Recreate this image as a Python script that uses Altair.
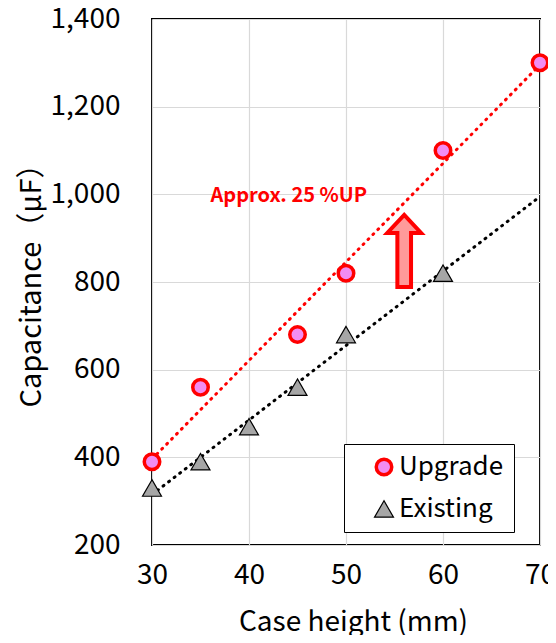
import altair as alt
import pandas as pd

# ---- data ----
series_names = ["Upgrade", "Existing"]
upgrade_height = [30, 35, 45, 50, 60, 70]
upgrade_cap = [390, 560, 680, 820, 1100, 1300]
existing_height = [30, 35, 40, 45, 50, 60]
existing_cap = [330, 390, 470, 560, 680, 820]
x_ticks = [30, 40, 50, 60, 70]
y_ticks = [200, 400, 600, 800, 1000, 1200, 1400]
annotation_text = ["Approx. 25 %UP"]

FONT = "Noto Sans CJK JP"

df = pd.DataFrame({
    "height": upgrade_height + existing_height,
    "cap": upgrade_cap + existing_cap,
    "series": ["Upgrade"] * len(upgrade_height) + ["Existing"] * len(existing_height),
})

ann = pd.DataFrame({"height": [44.1], "cap": [996], "label": annotation_text})
arrow = pd.DataFrame({"height": [56.0], "cap": [871]})

xscale = alt.Scale(domain=[30, 70], nice=False, zero=False)
yscale = alt.Scale(domain=[200, 1400], nice=False, zero=False)

xaxis = alt.Axis(values=x_ticks, format=".0f", title="Case height (mm)", grid=True, gridColor="#d9d9d9",
                 gridWidth=1.2, ticks=False, domain=False, labelFontSize=28, labelPadding=16,
                 labelColor="black", titleFontSize=28, titleFontWeight="normal",
                 titleColor="black", titleX=201, titleY=77, titleBaseline="middle", labelFlush=False)
yaxis = alt.Axis(values=y_ticks, format=",.0f", title="Capacitance（μF）", grid=True,
                 gridColor="#d9d9d9", gridWidth=1.2, ticks=False, domain=False,
                 labelFontSize=28, labelPadding=32, labelColor="black",
                 titleFontSize=29, titleFontWeight="normal", titleColor="black", titleX=-121,
                 titleY=259, titleBaseline="middle", titleAngle=-90)

X = alt.X("height:Q", scale=xscale, axis=xaxis)
Y = alt.Y("cap:Q", scale=yscale, axis=yaxis)

leg = alt.Legend(orient="none", legendX=192, legendY=425, title=None, strokeColor="black",
                 fillColor="white", padding=10, labelFontSize=26, labelColor="black",
                 rowPadding=14, labelOffset=2, symbolOffset=17,
                 labelExpr="datum.label + '\u00a0'")

reg = alt.Chart(df).transform_regression("height", "cap", groupby=["series"], extent=[30, 70])
line_up = reg.transform_filter(alt.datum.series == "Upgrade").mark_line(
    strokeWidth=3, strokeDash=[1, 6], strokeCap="round", color="#ff0000").encode(x=X, y=Y)
line_ex = reg.transform_filter(alt.datum.series == "Existing").mark_line(
    strokeWidth=3, strokeDash=[1, 6], strokeCap="round", color="#000000").encode(x=X, y=Y)

points = alt.Chart(df).mark_point(opacity=1, fillOpacity=1, filled=True).encode(
    x=X, y=Y,
    fill=alt.Fill("series:N", scale=alt.Scale(domain=series_names, range=["#f28cf2", "#a6a6a6"]), legend=leg),
    stroke=alt.Stroke("series:N", scale=alt.Scale(domain=series_names, range=["#ff0000", "#000000"]), legend=leg),
    shape=alt.Shape("series:N", scale=alt.Scale(domain=series_names, range=["circle", "triangle-up"]), legend=leg),
    strokeWidth=alt.StrokeWidth("series:N", scale=alt.Scale(domain=series_names, range=[3.5, 1.2]), legend=leg),
    size=alt.Size("series:N", scale=alt.Scale(domain=series_names, range=[240, 360]), legend=leg),
)

arrow_path = "M -0.19 1 L -0.19 -0.5 L -0.47 -0.5 L 0 -1 L 0.47 -0.5 L 0.19 -0.5 L 0.19 1 Z"
arrow_mark = alt.Chart(arrow).mark_point(
    shape=arrow_path, size=5184, filled=True, fill="#ff9a9a", stroke="#ff0000",
    strokeWidth=4, opacity=1, fillOpacity=1, strokeJoin="miter"
).encode(x=X, y=Y)

text = alt.Chart(ann).mark_text(fontSize=20, fontWeight="bold", color="#ff0000", font=FONT).encode(
    x=X, y=Y, text="label:N"
)

chart = alt.layer(line_up, line_ex, points, arrow_mark, text).properties(
    width=388, height=526,
    autosize=alt.AutoSizeParams(type="none"),
    padding={"left": 144, "top": 11, "right": 8, "bottom": 90},
).configure(font=FONT).configure_view(stroke="black", strokeWidth=2).configure_axis(
    titleFont=FONT, labelFont=FONT
).configure_legend(labelFont=FONT)

chart.save("out.html", embed_options={"renderer": "svg", "actions": False})
